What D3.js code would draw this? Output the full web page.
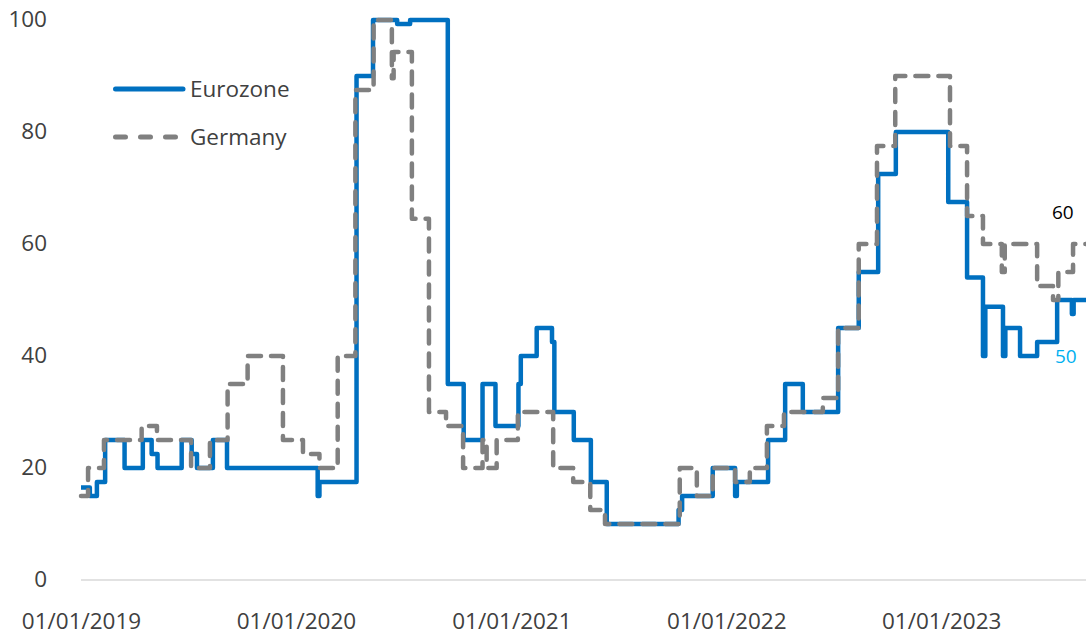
<!DOCTYPE html>
<html>
<head>
<meta charset="utf-8">
<script src="https://cdn.jsdelivr.net/npm/d3@7"></script>
<style>
  html, body { margin: 0; padding: 0; background: #fff; }
  svg { display: block; font-family: "Open Sans", sans-serif; }
</style>
</head>
<body>
<svg id="chart" width="1086" height="637"></svg>
<script>
// Eurozone series: [date the level starts, level]
const eurozone = [
  ["2019-01-01", 16.5], ["2019-01-16", 15], ["2019-01-28", 17.5], ["2019-02-11", 25],
  ["2019-03-16", 20], ["2019-04-16", 25], ["2019-05-01", 22.5], ["2019-05-11", 20],
  ["2019-06-21", 25], ["2019-07-08", 22.5], ["2019-07-17", 20], ["2019-08-13", 25],
  ["2019-09-06", 20], ["2020-02-07", 15], ["2020-02-10", 17.5], ["2020-04-13", 90],
  ["2020-05-11", 100], ["2020-06-21", 99.3], ["2020-07-13", 100], ["2020-09-15", 35],
  ["2020-10-12", 25], ["2020-11-13", 35], ["2020-12-05", 27.5], ["2021-01-13", 35],
  ["2021-01-17", 40], ["2021-02-13", 45], ["2021-03-11", 42.5], ["2021-03-15", 30],
  ["2021-04-17", 25], ["2021-05-16", 17.5], ["2021-06-12", 10], ["2021-10-12", 12.5],
  ["2021-10-18", 15], ["2021-12-09", 20], ["2022-01-16", 15], ["2022-01-19", 17.5],
  ["2022-03-13", 25], ["2022-04-11", 35], ["2022-05-11", 30], ["2022-07-10", 45],
  ["2022-08-14", 55], ["2022-09-16", 72.5], ["2022-10-16", 80], ["2023-01-13", 67.5],
  ["2023-02-14", 54], ["2023-03-13", 40], ["2023-03-17", 48.8], ["2023-04-16", 40],
  ["2023-04-20", 45], ["2023-05-15", 40], ["2023-06-13", 42.5], ["2023-07-17", 50],
  ["2023-08-11", 47.5], ["2023-08-14", 50], ["2023-09-04", 50]
];

// Germany series: [date the level starts, level]
const germany = [
  ["2019-01-01", 15], ["2019-01-13", 20], ["2019-02-09", 25], ["2019-04-14", 27.5],
  ["2019-05-10", 25], ["2019-07-07", 20], ["2019-08-08", 25], ["2019-09-07", 35],
  ["2019-10-11", 40], ["2019-12-10", 25], ["2020-01-13", 22.5], ["2020-02-10", 20],
  ["2020-03-12", 40], ["2020-04-11", 87.5], ["2020-05-12", 100], ["2020-06-12", 89.6],
  ["2020-06-15", 94.3], ["2020-07-16", 64.5], ["2020-08-14", 30], ["2020-09-12", 27.5],
  ["2020-10-11", 20], ["2020-11-13", 25], ["2020-11-20", 20], ["2020-12-07", 25],
  ["2021-01-12", 30], ["2021-03-13", 20], ["2021-04-16", 17.5], ["2021-05-15", 12.5],
  ["2021-06-09", 10], ["2021-10-14", 20], ["2021-11-12", 15], ["2021-12-09", 20],
  ["2022-01-16", 17.5], ["2022-02-10", 20], ["2022-03-11", 27.5], ["2022-04-09", 30],
  ["2022-06-14", 32.5], ["2022-07-10", 45], ["2022-08-14", 60], ["2022-09-14", 77.5],
  ["2022-10-15", 90], ["2023-01-16", 77.5], ["2023-02-14", 65], ["2023-03-13", 60],
  ["2023-04-14", 55], ["2023-04-19", 60], ["2023-06-13", 52.5], ["2023-07-10", 50],
  ["2023-07-19", 55], ["2023-08-13", 60], ["2023-09-04", 60]
];

const yTicks = [0, 20, 40, 60, 80, 100];
const xTickDates = ["2019-01-01", "2020-01-01", "2021-01-01", "2022-01-01", "2023-01-01"];
const seriesNames = ["Eurozone", "Germany"];

const parse = d3.utcParse("%Y-%m-%d");
const fmt = d3.utcFormat("%d/%m/%Y");
const ez = eurozone.map(([d, v]) => ({ date: parse(d), value: v }));
const de = germany.map(([d, v]) => ({ date: parse(d), value: v }));

const svg = d3.select("#chart");
const plot = { left: 81, right: 1086, top: 20, bottom: 580 };
const labelFont = 22.5;

const x = d3.scaleUtc()
  .domain([parse("2019-01-01"), parse("2023-09-04")])
  .range([plot.left, plot.right]);
const y = d3.scaleLinear().domain([0, 100]).range([plot.bottom, plot.top]);

// Horizontal baseline
svg.append("line")
  .attr("x1", plot.left).attr("x2", plot.right)
  .attr("y1", y(0)).attr("y2", y(0))
  .attr("stroke", "#d9d9d9").attr("stroke-width", 1.5);

// Y axis labels
const yAxis = svg.append("g")
  .attr("transform", `translate(${plot.left - 34},-1)`)
  .call(d3.axisLeft(y).tickValues(yTicks).tickSize(0).tickPadding(0));
yAxis.select(".domain").remove();
yAxis.selectAll("text")
  .attr("font-family", "'Open Sans', sans-serif")
  .attr("font-size", labelFont).attr("fill", "#404040");

// X axis labels
const xAxis = svg.append("g")
  .attr("transform", `translate(0,${y(0) + 33})`)
  .call(d3.axisBottom(x).tickValues(xTickDates.map(parse)).tickFormat(fmt).tickSize(0).tickPadding(0));
xAxis.select(".domain").remove();
xAxis.selectAll("text")
  .attr("font-family", "'Open Sans', sans-serif")
  .attr("font-size", labelFont).attr("fill", "#404040");

const line = d3.line()
  .x(d => x(d.date))
  .y(d => y(d.value))
  .curve(d3.curveStepAfter);

svg.append("path")
  .datum(ez)
  .attr("d", line)
  .attr("fill", "none")
  .attr("stroke", "#0070c0")
  .attr("stroke-width", 4.5)
  .attr("stroke-linejoin", "round");

svg.append("path")
  .datum(de)
  .attr("d", line)
  .attr("fill", "none")
  .attr("stroke", "#808080")
  .attr("stroke-width", 4.5)
  .attr("stroke-dasharray", "13,10")
  .attr("stroke-linecap", "round")
  .attr("stroke-linejoin", "round");

// End-value labels
const lastEz = ez[ez.length - 1], lastDe = de[de.length - 1];
svg.append("text")
  .attr("x", x(lastDe.date) - 34).attr("y", y(lastDe.value) - 30)
  .attr("font-size", 19).attr("fill", "#000")
  .attr("dominant-baseline", "middle")
  .text(lastDe.value);
svg.append("text")
  .attr("x", x(lastEz.date) - 31).attr("y", y(lastEz.value) + 58)
  .attr("font-size", 19).attr("fill", "#00b0f0")
  .attr("dominant-baseline", "middle")
  .text(lastEz.value);

// Legend
const legend = svg.append("g");
legend.append("line")
  .attr("x1", 115.5).attr("x2", 183).attr("y1", 89).attr("y2", 89)
  .attr("stroke", "#0070c0").attr("stroke-width", 5).attr("stroke-linecap", "round");
legend.append("line")
  .attr("x1", 115.5).attr("x2", 176).attr("y1", 137).attr("y2", 137)
  .attr("stroke", "#808080").attr("stroke-width", 5).attr("stroke-linecap", "round")
  .attr("stroke-dasharray", "10,15");
legend.selectAll("text.lg")
  .data(seriesNames)
  .join("text")
  .attr("class", "lg")
  .attr("x", 190)
  .attr("y", (d, i) => 89 + i * 48)
  .attr("dy", "0.35em")
  .attr("font-size", labelFont).attr("fill", "#404040")
  .text(d => d);
</script>
</body>
</html>
